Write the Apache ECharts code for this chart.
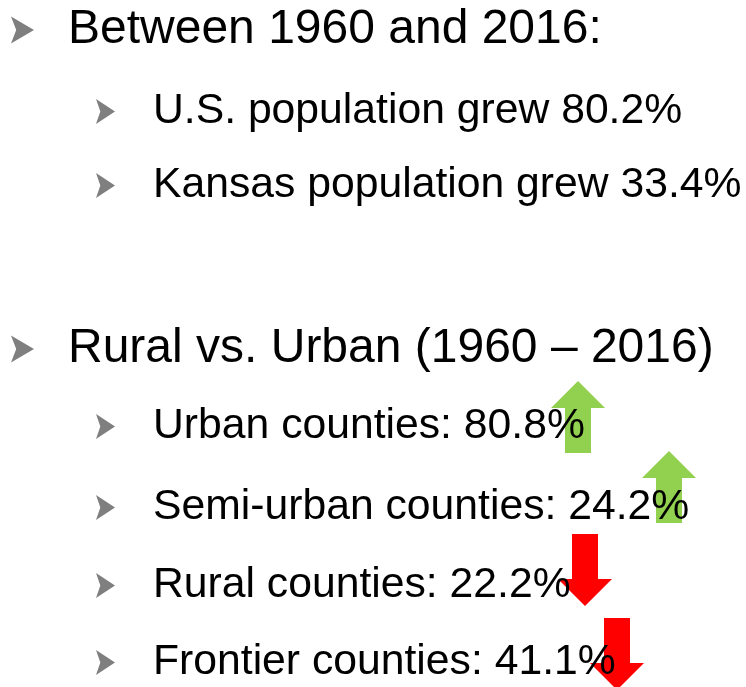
<!DOCTYPE html>
<html>
<head>
<meta charset="utf-8">
<script src="https://cdn.jsdelivr.net/npm/echarts@6/dist/echarts.min.js"></script>
<style>
  html, body { margin: 0; padding: 0; background: #fff; }
  #chart { width: 746px; height: 687px; }
</style>
</head>
<body>
<div id="chart"></div>
<script>
const headings = ['Between 1960 and 2016:', 'Rural vs. Urban (1960 – 2016)']
const stateNames = ['U.S.', 'Kansas']
const stateGrowth = [80.2, 33.4]
const countyTypes = ['Urban', 'Semi-urban', 'Rural', 'Frontier']
const countyChange = [80.8, 24.2, -22.2, -41.1]

// slide layout (pixels): baseline of each text row, arrow centres
const rowBaseline = [43, 123, 197, 362, 438, 519, 597, 674]
const arrowCentre = [[578, 417], [669, 487], [585, 570], [617, 654]]

const FONT = '"Liberation Sans", Arial, sans-serif'
const sizes = { 1: 48, 2: 42.7 }
const textX = { 1: 68, 2: 153 }
const bulletX = { 1: 22.5, 2: 105.5 }

// build the rows: heading, items, heading, items
const rows = []
rows.push({ level: 1, text: headings[0] })
stateNames.forEach((n, i) => rows.push({ level: 2, text: `${n} population grew ${stateGrowth[i].toFixed(1)}%` }))
rows.push({ level: 1, text: headings[1] })
countyTypes.forEach((t, i) => rows.push({ level: 2, text: `${t} counties: ${Math.abs(countyChange[i]).toFixed(1)}%` }))

const CHEVRON = 'path://M0,0 L22,12 L0,24 L5,12 Z'
const ARROW_UP = 'path://M27,0 L54,27 L40,27 L40,72 L14,72 L14,27 L0,27 Z'
const ARROW_DOWN = 'path://M14,0 L40,0 L40,45 L54,45 L27,72 L0,45 L14,45 Z'

const textData = rows.map((r, i) => ({
  value: [textX[r.level], rowBaseline[i] - sizes[r.level] * 0.3465 + 3],
  label: { formatter: r.text, fontSize: sizes[r.level] },
}))

const bulletData = rows.map((r, i) => ({
  value: [bulletX[r.level], rowBaseline[i] - (r.level === 1 ? 13 : 11.5)],
  symbolSize: r.level === 1 ? [23, 27] : [19, 25],
}))

const arrowData = countyChange.map((v, i) => ({
  value: arrowCentre[i],
  symbol: v >= 0 ? ARROW_UP : ARROW_DOWN,
  itemStyle: { color: v >= 0 ? '#92d050' : '#ff0000', opacity: 1 },
}))

const chart = echarts.init(document.getElementById('chart'))
chart.setOption({
  backgroundColor: '#ffffff',
  animation: false,
  grid: { left: 0, right: 0, top: 0, bottom: 0 },
  xAxis: { type: 'value', min: 0, max: 746, show: false },
  yAxis: { type: 'value', min: 0, max: 687, inverse: true, show: false },
  series: [
    {
      name: 'bullets',
      type: 'scatter',
      silent: true,
      symbol: CHEVRON,
      itemStyle: { color: '#7f7f7f', opacity: 1 },
      data: bulletData,
    },
    {
      name: 'text',
      type: 'scatter',
      silent: true,
      symbolSize: 0,
      itemStyle: { opacity: 1 },
      label: {
        show: true,
        position: 'right',
        distance: 0,
        align: 'left',
        verticalAlign: 'middle',
        color: '#000000',
        opacity: 1,
        fontFamily: FONT,
      },
      data: textData,
    },
    {
      name: 'arrows',
      type: 'scatter',
      silent: true,
      clip: false,
      symbolSize: [54, 72],
      data: arrowData,
    },
  ],
})
</script>
</body>
</html>
